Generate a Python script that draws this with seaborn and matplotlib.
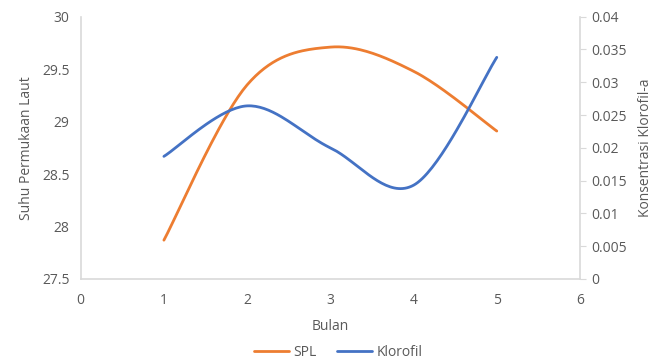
import numpy as np
import pandas as pd
import matplotlib
matplotlib.use("Agg")
import matplotlib.pyplot as plt
import seaborn as sns
from matplotlib.lines import Line2D

bulan = [1, 2, 3, 4, 5]
spl = [27.87, 29.35, 29.71, 29.48, 28.91]
klorofil = [0.0187, 0.0264, 0.0200, 0.0143, 0.0338]

ORANGE = "#ED7D31"
BLUE = "#4472C4"
TXT = "#595959"
GRID = "#D9D9D9"


def smooth(x, y, n=40):
    # Catmull-Rom style smoothing like Excel's "smoothed line"
    x = np.asarray(x, float); y = np.asarray(y, float)
    px = np.concatenate([[x[0]], x, [x[-1]]])
    py = np.concatenate([[y[0]], y, [y[-1]]])
    xs, ys = [], []
    for i in range(1, len(px) - 2):
        p0, p1, p2, p3 = (np.array([px[j], py[j]]) for j in (i - 1, i, i + 1, i + 2))
        c1 = p1 + (p2 - p0) / 6
        c2 = p2 - (p3 - p1) / 6
        t = np.linspace(0, 1, n)[:, None]
        b = (1 - t) ** 3 * p1 + 3 * (1 - t) ** 2 * t * c1 + 3 * (1 - t) * t ** 2 * c2 + t ** 3 * p2
        xs.append(b[:, 0]); ys.append(b[:, 1])
    return np.concatenate(xs), np.concatenate(ys)


sns.set_style("white")
plt.rcParams["font.family"] = ["Open Sans", "DejaVu Sans"]

fig = plt.figure(figsize=(6.57, 3.62), dpi=100)
ax = fig.add_axes([0.1228, 0.2293, 0.76, 0.7246])
ax2 = ax.twinx()

sx, sy = smooth(bulan, spl)
kx, ky = smooth(bulan, klorofil)
sns.lineplot(x=sx, y=sy, ax=ax, color=ORANGE, lw=2, sort=False, estimator=None)
sns.lineplot(x=kx, y=ky, ax=ax2, color=BLUE, lw=2, sort=False, estimator=None)

ax.set_xlim(0, 6)
ax.set_ylim(27.5, 30)
ax.set_xticks(range(0, 7))
ax.set_yticks([27.5, 28, 28.5, 29, 29.5, 30])
ax.set_yticklabels(["27.5", "28", "28.5", "29", "29.5", "30"])
ax2.set_ylim(0, 0.04)
ax2.set_yticks(np.arange(0, 0.0401, 0.005))
ax2.set_yticklabels(["0", "0.005", "0.01", "0.015", "0.02", "0.025", "0.03", "0.035", "0.04"])

for a in (ax, ax2):
    for s in a.spines.values():
        s.set_visible(False)
ax.spines["left"].set_visible(True)
ax.spines["bottom"].set_visible(True)
ax2.spines["right"].set_visible(True)
for s in (ax.spines["left"], ax.spines["bottom"], ax2.spines["right"]):
    s.set_color(GRID); s.set_linewidth(1.2)

ax.tick_params(axis="both", length=0, colors=TXT, labelsize=10, pad=8)
ax.tick_params(axis="x", pad=10)
ax2.tick_params(axis="y", length=4, color=GRID, colors=TXT, labelsize=10, pad=4)
ax2.tick_params(axis="y", color=GRID)

ax.set_xlabel("Bulan", color=TXT, fontsize=10, labelpad=8)
ax.set_ylabel("Suhu Permukaan Laut", color=TXT, fontsize=10, labelpad=6)
ax2.set_ylabel("Konsentrasi Klorofil-a", color=TXT, fontsize=10, labelpad=8)

handles = [Line2D([], [], color=ORANGE, lw=2), Line2D([], [], color=BLUE, lw=2)]
fig.legend(handles, ["SPL", "Klorofil"], loc="lower center", bbox_to_anchor=(0.515, -0.03),
           ncol=2, frameon=False, fontsize=10, labelcolor=TXT, handlelength=2.5,
           columnspacing=1.5, handletextpad=0.3)

fig.savefig("out.png", dpi=100)
